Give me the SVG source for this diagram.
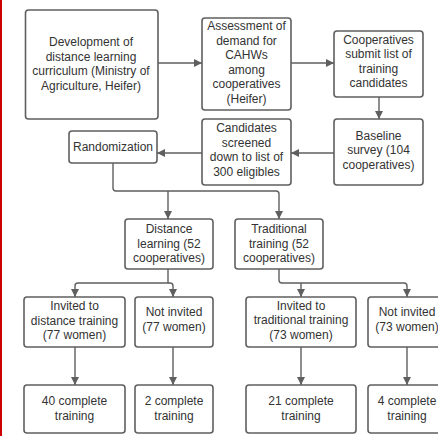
<svg xmlns="http://www.w3.org/2000/svg" width="438" height="436" viewBox="0 0 438 436">
<defs>
<marker id="ah" viewBox="0 0 10 10" refX="10" refY="5" markerWidth="8" markerHeight="8" markerUnits="userSpaceOnUse" orient="auto">
<path d="M0 0 L10 5 L0 10 z" fill="#5f5f5f"/>
</marker>
<style>
.box{fill:#fff;stroke:#5f5f5f;stroke-width:1.6}
.t{font-family:"Liberation Sans",Arial,sans-serif;font-size:12px;fill:#333;text-anchor:middle}
.c{fill:none;stroke:#5f5f5f;stroke-width:1.4;marker-end:url(#ah)}
.l{fill:none;stroke:#5f5f5f;stroke-width:1.4}
</style>
</defs>
<rect x="0" y="0" width="438" height="436" fill="#fff"/>
<rect x="0" y="0" width="2" height="436" fill="#cc0000"/>

<g id="connectors">
<path class="c" d="M158 63 H202"/>
<path class="c" d="M291 63 H334"/>
<path class="c" d="M379 97 V119"/>
<path class="c" d="M334 153 H291"/>
<path class="c" d="M202 153 H157"/>
<path class="c" d="M113 163 V188 Q113 191 116 191 H276 Q279 191 279 194 V219"/>
<path class="c" d="M168 191 V219"/>
<path class="c" d="M168 269 V283 H78 Q75 283 75 286 V297"/>
<path class="c" d="M168 283 H170 Q173 283 173 286 V297"/>
<path class="c" d="M279 269 V280 Q279 283 282 283 H404 Q407 283 407 286 V297"/>
<path class="c" d="M301 283 V297"/>
<path class="c" d="M75 347 V385"/>
<path class="c" d="M173 347 V385"/>
<path class="c" d="M301 347 V385"/>
<path class="c" d="M407 347 V385"/>
</g>

<g id="dev"><rect class="box" x="25.5" y="10" width="132.5" height="109" rx="3"/>
<text class="t" x="91" y="46">Development of</text><text class="t" x="91" y="60.5">distance learning</text><text class="t" x="91" y="75">curriculum (Ministry of</text><text class="t" x="91" y="89.5">Agriculture, Heifer)</text></g>

<g id="assess"><rect class="box" x="202" y="18" width="89" height="92" rx="3"/>
<text class="t" x="246.5" y="30">Assessment of</text><text class="t" x="246.5" y="44.5">demand for</text><text class="t" x="246.5" y="59">CAHWs</text><text class="t" x="246.5" y="73.5">among</text><text class="t" x="246.5" y="88">cooperatives</text><text class="t" x="246.5" y="102.5">(Heifer)</text></g>

<g id="coops"><rect class="box" x="334" y="31" width="89" height="66" rx="3"/>
<text class="t" x="378.5" y="44">Cooperatives</text><text class="t" x="378.5" y="58">submit list of</text><text class="t" x="378.5" y="72.5">training</text><text class="t" x="378.5" y="87">candidates</text></g>

<g id="random"><rect class="box" x="69" y="131" width="88" height="32" rx="3"/>
<text class="t" x="113" y="151">Randomization</text></g>

<g id="cands"><rect class="box" x="202" y="119" width="89" height="66" rx="3"/>
<text class="t" x="246.5" y="132">Candidates</text><text class="t" x="246.5" y="146.5">screened</text><text class="t" x="246.5" y="161">down to list of</text><text class="t" x="246.5" y="175.5">300 eligibles</text></g>

<g id="baseline"><rect class="box" x="334" y="119" width="89" height="66" rx="3"/>
<text class="t" x="378.5" y="139.5">Baseline</text><text class="t" x="378.5" y="154">survey (104</text><text class="t" x="378.5" y="168.5">cooperatives)</text></g>

<g id="distance"><rect class="box" x="125" y="219" width="88" height="50" rx="3"/>
<text class="t" x="169" y="233">Distance</text><text class="t" x="169" y="247.5">learning (52</text><text class="t" x="169" y="262">cooperatives)</text></g>

<g id="traditional"><rect class="box" x="235" y="219" width="88" height="50" rx="3"/>
<text class="t" x="279" y="233">Traditional</text><text class="t" x="279" y="247.5">training (52</text><text class="t" x="279" y="262">cooperatives)</text></g>

<g id="invdist"><rect class="box" x="24" y="297" width="101" height="50" rx="3"/>
<text class="t" x="74.5" y="310">Invited to</text><text class="t" x="74.5" y="324.5">distance training</text><text class="t" x="74.5" y="339">(77 women)</text></g>

<g id="notinv77"><rect class="box" x="135" y="297" width="78" height="50" rx="3"/>
<text class="t" x="174" y="316">Not invited</text><text class="t" x="174" y="331">(77 women)</text></g>

<g id="invtrad"><rect class="box" x="246" y="297" width="110" height="50" rx="3"/>
<text class="t" x="301" y="309.5">Invited to</text><text class="t" x="301" y="324">traditional training</text><text class="t" x="301" y="338.5">(73 women)</text></g>

<g id="notinv73"><rect class="box" x="368" y="297" width="74" height="50" rx="3"/>
<text class="t" x="407" y="316">Not invited</text><text class="t" x="407" y="331">(73 women)</text></g>

<g id="c40"><rect class="box" x="24" y="385" width="101" height="48" rx="3"/>
<text class="t" x="74.5" y="405">40 complete</text><text class="t" x="74.5" y="420">training</text></g>

<g id="c2"><rect class="box" x="135" y="385" width="78" height="48" rx="3"/>
<text class="t" x="174" y="405">2 complete</text><text class="t" x="174" y="420">training</text></g>

<g id="c21"><rect class="box" x="246" y="385" width="110" height="48" rx="3"/>
<text class="t" x="301" y="405">21 complete</text><text class="t" x="301" y="420">training</text></g>

<g id="c4"><rect class="box" x="368" y="385" width="74" height="48" rx="3"/>
<text class="t" x="407" y="405">4 complete</text><text class="t" x="407" y="420">training</text></g>
</svg>
